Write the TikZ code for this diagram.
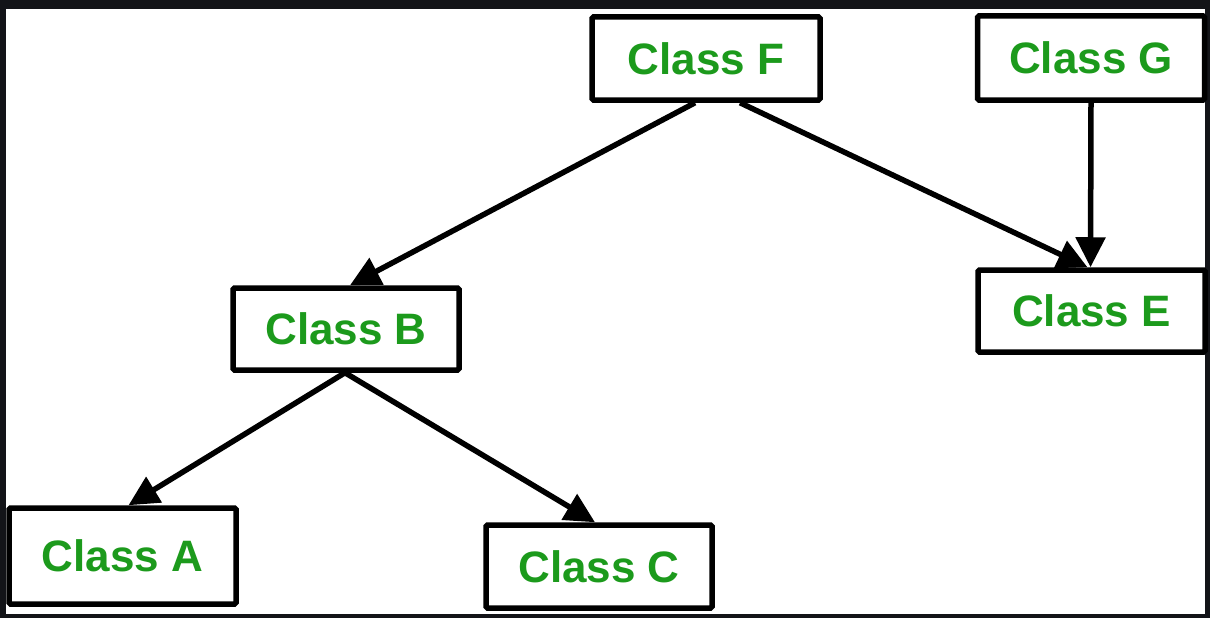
\documentclass[tikz,border=0pt]{standalone}
\usepackage{fontspec}
\setmainfont{Liberation Sans}
\usetikzlibrary{arrows.meta}
\definecolor{frame}{HTML}{131418}
\definecolor{cgreen}{HTML}{1C9A1C}
\begin{document}
\begin{tikzpicture}[x=1pt,y=-1pt,
  cls/.style={draw=black,line width=5.5pt,rounded corners=1.5pt,fill=white,inner sep=0pt,
    font=\fontsize{44}{48}\selectfont\bfseries,text=cgreen},
  link/.style={line width=5.5pt,-{Triangle[length=30pt,width=29pt]}}]
\fill[frame] (0,0) rectangle (1210,618);
\fill[white] (6,9) rectangle (1205,614);
\useasboundingbox (0,0) rectangle (1210,618);
\node[cls,minimum width=228pt,minimum height=83pt] (F) at (706,58.5) {Class F};
\node[cls,minimum width=227pt,minimum height=84pt] (G) at (1091,58) {Class G};
\node[cls,minimum width=226pt,minimum height=82pt] (B) at (346,329) {Class B};
\node[cls,minimum width=227pt,minimum height=82pt] (E) at (1091.5,311) {Class E};
\node[cls,minimum width=227pt,minimum height=96pt] (A) at (122.5,556) {Class A};
\node[cls,minimum width=226pt,minimum height=83pt] (C) at (599,566.5) {Class C};
\coordinate (Fl) at ([xshift=-11pt]F.south);
\coordinate (Fr) at ([xshift=34pt]F.south);
\coordinate (Bs) at ([xshift=-1pt]B.south);
\draw[link] (Fl) -- ([xshift=4pt]B.north);
\draw[link] (Fr) -- ([xshift=-4pt]E.north);
\draw[link] (G.south) -- ([xshift=-1pt]E.north);
\draw[link] (Bs) -- ([xshift=6pt]A.north);
\draw[link] (Bs) -- ([xshift=-4pt]C.north);
\end{tikzpicture}
\end{document}
